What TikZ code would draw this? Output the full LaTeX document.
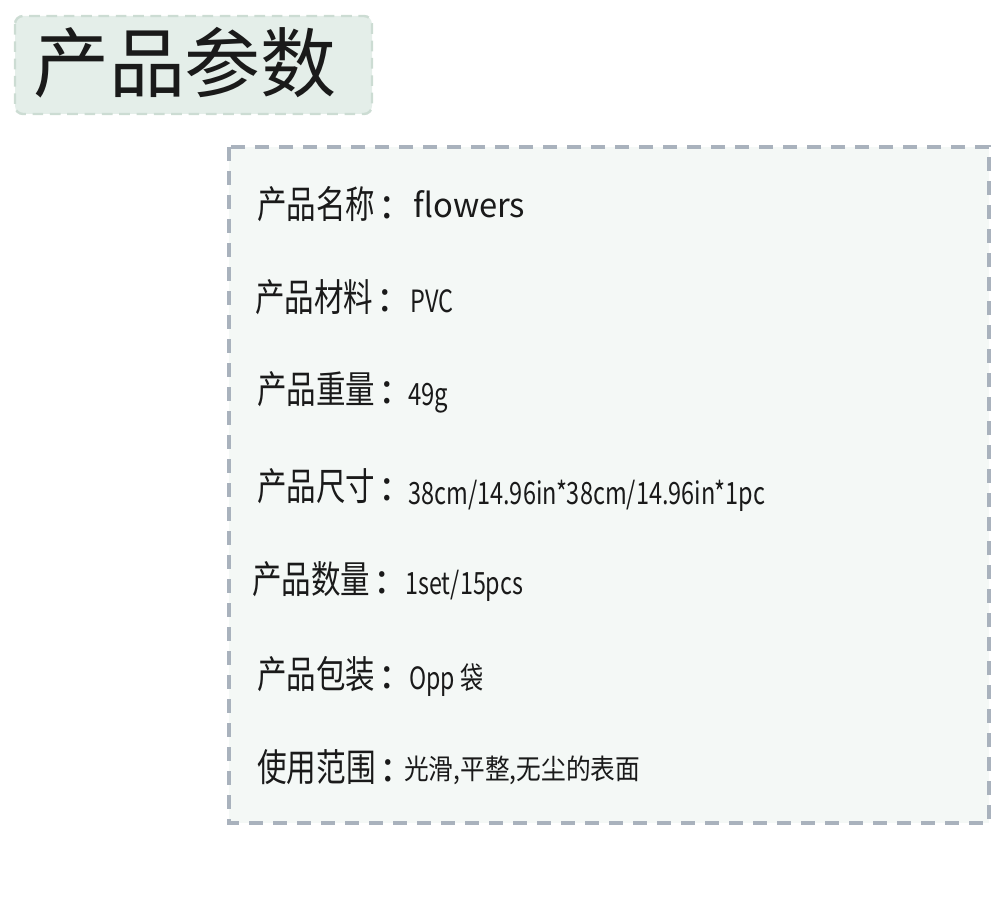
\documentclass[tikz,border=0pt]{standalone}
\usepackage{fontspec}
\setmainfont{Noto Sans CJK SC}
\usepackage{graphicx}

\definecolor{titlefill}{HTML}{E4EEE9}
\definecolor{titleline}{HTML}{CCDCD3}
\definecolor{infofill}{HTML}{F4F8F6}
\definecolor{infoline}{HTML}{A9B2BD}
\definecolor{ink}{HTML}{1A1A1A}

\newcommand{\fitw}[2]{\resizebox{#1}{\height}{#2}}
\newcommand{\keycolon}{\hspace{5pt}{\fontsize{31pt}{31pt}\selectfont :}}

\tikzset{
  titlebox/.style={fill=titlefill, draw=titleline, line width=1.8pt,
    dash pattern=on 8pt off 5pt, rounded corners=6pt},
  infobox/.style={fill=infofill, draw=infoline, line width=2.8pt,
    dash pattern=on 10.5pt off 7.5pt},
  key/.style={anchor=west, inner sep=0pt, text=ink,
    font=\fontsize{28.5pt}{30pt}\selectfont},
  val/.style={anchor=base west, inner sep=0pt, text=ink,
    font=\fontsize{23pt}{25pt}\selectfont}
}

\begin{document}
\begin{tikzpicture}[x=0.75pt, y=-0.75pt]
    \useasboundingbox (0,0) rectangle (1000,920);
    \draw[titlebox] (15,16) rectangle (372,114);
    \node[text=ink, font=\fontsize{57pt}{60pt}\selectfont] (title) at (185,63) {产品参数};
    \draw[infobox] (229,147) rectangle (989,823);

    \node[key] (kname) at (257,204) {\fitw{88.5pt}{产品名称}\keycolon};
    \node[key] (kmat) at (255,297) {\fitw{88.5pt}{产品材料}\keycolon};
    \node[key] (kwt) at (257,389) {\fitw{88.5pt}{产品重量}\keycolon};
    \node[key] (ksize) at (257,486) {\fitw{88.5pt}{产品尺寸}\keycolon};
    \node[key] (kqty) at (252,579) {\fitw{88.5pt}{产品数量}\keycolon};
    \node[key] (kpack) at (257,674) {\fitw{88.5pt}{产品包装}\keycolon};
    \node[key] (kuse) at (257,767) {\fitw{89pt}{使用范围}\keycolon};

    \node[val, font=\fontsize{25pt}{27pt}\selectfont] (vname) at (413,218) {\fitw{84pt}{flowers}};
    \node[val] (vmat) at (410,312) {\fitw{32.25pt}{PVC}};
    \node[val] (vwt) at (408,405) {\fitw{30pt}{49g}};
    \node[val] (vsize) at (408,504) {\fitw{267.75pt}{38cm/14.96in*38cm/14.96in*1pc}};
    \node[val] (vqty) at (405,594) {\fitw{88.5pt}{1set/15pcs}};
    \node[val] (vpack) at (409,689) {\fitw{55.5pt}{Opp 袋}};
    \node[val, font=\fontsize{21pt}{23pt}\selectfont] (vuse) at (404,779) {\fitw{177pt}{光滑,平整,无尘的表面}};
  \end{tikzpicture}
\end{document}
